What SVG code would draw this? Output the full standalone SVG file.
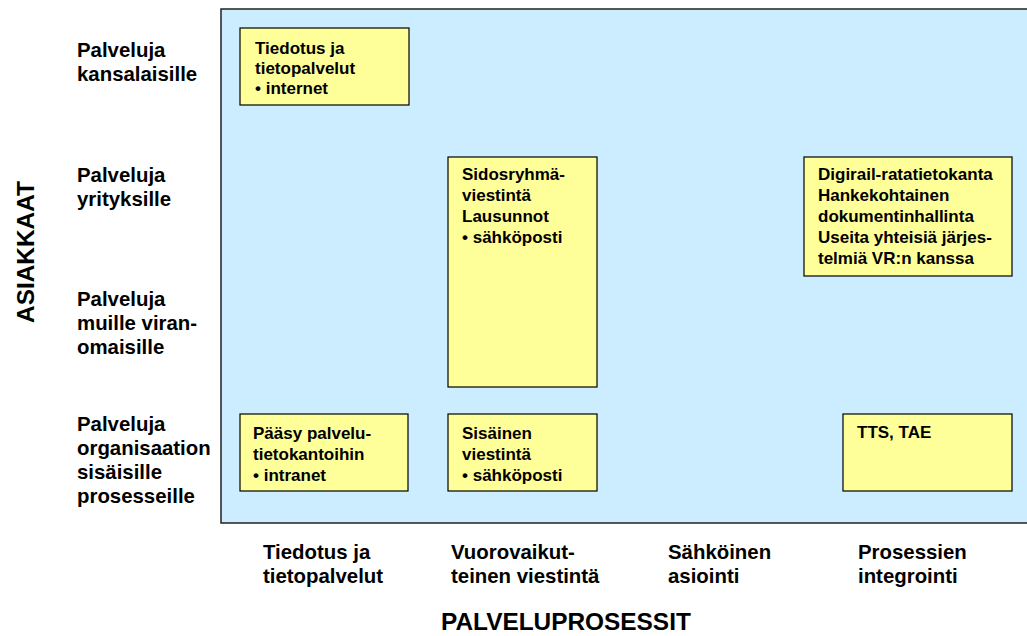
<svg xmlns="http://www.w3.org/2000/svg" width="1027" height="636" viewBox="0 0 1027 636">
  <style>
    text { font-family: "Liberation Sans", Arial, sans-serif; font-weight: bold; fill: #000; }
    .axis { font-size: 24.4px; }
    .lbl { font-size: 20.4px; }
    .box { fill: #FFFF99; stroke: #000; stroke-width: 1.2; }
    .box-text { font-size: 17px; }
  </style>
  <rect width="1027" height="636" fill="#FFFFFF"/>

  <!-- matrix background -->
  <rect id="matrix" x="221" y="9" width="830" height="514" fill="#CCECFF" stroke="#222" stroke-width="1.5"/>

  <!-- row labels (customers) -->
  <g id="rows">
    <text class="lbl" x="77" y="57">Palveluja</text>
    <text class="lbl" x="77" y="81">kansalaisille</text>
    <text class="lbl" x="77" y="182">Palveluja</text>
    <text class="lbl" x="77" y="206">yrityksille</text>
    <text class="lbl" x="77" y="306">Palveluja</text>
    <text class="lbl" x="77" y="330">muille viran-</text>
    <text class="lbl" x="77" y="354">omaisille</text>
    <text class="lbl" x="77" y="431">Palveluja</text>
    <text class="lbl" x="77" y="455">organisaation</text>
    <text class="lbl" x="77" y="479">sisäisille</text>
    <text class="lbl" x="77" y="503">prosesseille</text>
  </g>
  <text class="axis" transform="translate(34,252) rotate(-90)" text-anchor="middle">ASIAKKAAT</text>

  <!-- column labels (service processes) -->
  <g id="columns">
    <text class="lbl" x="263" y="559">Tiedotus ja</text>
    <text class="lbl" x="263" y="583">tietopalvelut</text>
    <text class="lbl" x="451" y="559">Vuorovaikut-</text>
    <text class="lbl" x="451" y="583">teinen viestintä</text>
    <text class="lbl" x="668" y="559">Sähköinen</text>
    <text class="lbl" x="668" y="583">asiointi</text>
    <text class="lbl" x="858" y="559">Prosessien</text>
    <text class="lbl" x="858" y="583">integrointi</text>
  </g>
  <text class="axis" x="441" y="630">PALVELUPROSESSIT</text>

  <!-- service nodes -->
  <g id="node-tiedotus">
    <rect class="box" x="240" y="28" width="169" height="77"/>
    <text class="box-text" x="255" y="54">Tiedotus ja</text>
    <text class="box-text" x="255" y="74">tietopalvelut</text>
    <text class="box-text" x="255" y="94">• internet</text>
  </g>
  <g id="node-sidosryhma">
    <rect class="box" x="448" y="157" width="149" height="230"/>
    <text class="box-text" x="462" y="180">Sidosryhmä-</text>
    <text class="box-text" x="462" y="201">viestintä</text>
    <text class="box-text" x="462" y="222">Lausunnot</text>
    <text class="box-text" x="462" y="243">• sähköposti</text>
  </g>
  <g id="node-digirail">
    <rect class="box" x="804" y="157" width="208" height="119"/>
    <text class="box-text" x="818" y="180">Digirail-ratatietokanta</text>
    <text class="box-text" x="818" y="201">Hankekohtainen</text>
    <text class="box-text" x="818" y="222">dokumentinhallinta</text>
    <text class="box-text" x="818" y="243">Useita yhteisiä järjes-</text>
    <text class="box-text" x="818" y="264">telmiä VR:n kanssa</text>
  </g>
  <g id="node-paasy">
    <rect class="box" x="240" y="414" width="168" height="77"/>
    <text class="box-text" x="253" y="439">Pääsy palvelu-</text>
    <text class="box-text" x="253" y="460">tietokantoihin</text>
    <text class="box-text" x="253" y="481">• intranet</text>
  </g>
  <g id="node-sisainen">
    <rect class="box" x="448" y="414" width="149" height="77"/>
    <text class="box-text" x="462" y="439">Sisäinen</text>
    <text class="box-text" x="462" y="460">viestintä</text>
    <text class="box-text" x="462" y="481">• sähköposti</text>
  </g>
  <g id="node-tts">
    <rect class="box" x="843" y="414" width="169" height="77"/>
    <text class="box-text" x="857" y="438">TTS, TAE</text>
  </g>

  <!-- no connectors in this matrix -->
  <g id="connectors"/>
</svg>
